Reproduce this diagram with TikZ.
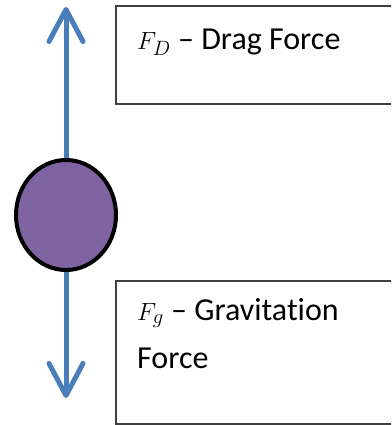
\documentclass[tikz,border=0pt]{standalone}
\usepackage{fontspec}
\setmainfont{Carlito}[Ligatures={TeX,NoCommon}]
\usetikzlibrary{positioning, arrows.meta, shapes.geometric, calc}
\definecolor{BlueA}{HTML}{4A7EBB}
\definecolor{PurpleA}{HTML}{8064A2}
\definecolor{GrayA}{HTML}{404040}
\tikzset{
  bx/.style={draw=GrayA, line width=2pt, minimum width=290pt,
             anchor=north west, inner sep=0pt},
  ball/.style={ellipse, draw=black, fill=PurpleA, line width=4pt,
               minimum width=100pt, minimum height=110pt, inner sep=0pt},
  ar/.style={-{Straight Barb[length=32pt, width=34pt, line cap=round, line join=round]},
             draw=BlueA, line width=5pt},
  lb/.style={anchor=base west, font=\fontsize{32}{48}\selectfont, align=left, inner sep=0pt},
}

\begin{document}
\begin{tikzpicture}[x=1pt, y=-1pt]
  \useasboundingbox (0,0) rectangle (391,425);
  \clip (0,0) rectangle (391,425);
  \node[ball] (mass) at (66,215) {};
  \node[bx, minimum height=98pt] (drag) at (115,5) {};
  \node[bx, minimum height=143pt] (grav) at (115,280) {};
  \node[lb] (dragtxt) at ($(drag.north west)+(22,45)$) {$F_D$ \textendash\ Drag Force};
  \node[lb] (gravtxt) at ($(grav.north west)+(22,88)$) {$F_g$ \textendash\ Gravitation\\Force};
  \coordinate (up) at (66,7);
  \coordinate (down) at (66,398);
  \draw[ar] (mass) -- (up);
  \draw[ar] (mass) -- (down);
\end{tikzpicture}
\end{document}
